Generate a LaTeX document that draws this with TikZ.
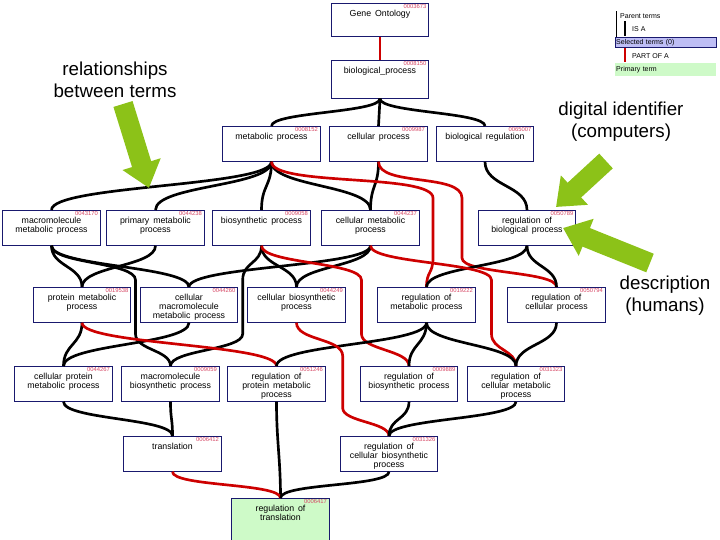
\documentclass[tikz,border=0pt]{standalone}
\usepackage{fontspec}
\setmainfont{Liberation Sans}
\usetikzlibrary{arrows.meta}
\definecolor{termblue}{RGB}{25,25,110}
\definecolor{goid}{RGB}{214,70,100}
\definecolor{partred}{RGB}{205,0,0}
\definecolor{selband}{RGB}{190,190,245}
\definecolor{primband}{RGB}{206,250,200}
\definecolor{arrowgreen}{RGB}{140,194,24}
\newcommand{\goterm}[3][10.5mm]{\parbox[c][#1][t]{\linewidth}{%
  \vspace*{0.25mm}{\raggedleft\fontsize{5}{5}\selectfont\color{goid}#2\hspace*{0.7mm}\par}%
  \vspace{-0.3mm}{\centering\fontsize{7.5}{7.7}\selectfont #3\par}}}

\begin{document}
\begin{tikzpicture}[x=0.3mm,y=-0.3mm]
        \tikzstyle{term}=[draw=termblue, line width=0.6pt, fill=white, inner sep=0pt, anchor=north, text width=29.3mm]
        \tikzstyle{primary}=[term, fill=primband]
        \tikzstyle{isa}=[line width=0.8mm, black]
        \tikzstyle{partof}=[line width=0.8mm, partred]
        \tikzstyle{callout}=[arrowgreen, line width=6mm, -{Triangle[length=7.5mm,width=11.5mm]}]
        \tikzstyle{note}=[font=\fontsize{16}{18.7}\selectfont, align=center]
        \tikzstyle{legendtext}=[font=\fontsize{6}{6}\selectfont, anchor=west, inner sep=0pt]
        \tikzstyle{band}=[anchor=north west, text width=29.7mm, minimum height=3mm, inner xsep=0.3mm, inner ysep=0pt, font=\fontsize{6}{6}\selectfont]
        \useasboundingbox (0,0) rectangle (720,540);

        \node[term] (go) at (380,3) {\goterm[9.9mm]{0003673}{Gene Ontology}};
        \node[term] (bp) at (380,60) {\goterm[11.4mm]{0008150}{biological\_process}};

        \node[term] (mp) at (271.5,126) {\goterm{0008152}{metabolic process}};
        \node[term] (cp) at (378.5,126) {\goterm{0009987}{cellular process}};
        \node[term] (breg) at (485,126) {\goterm{0065007}{biological regulation}};

        \node[term] (mmp) at (51.5,210) {\goterm{0043170}{macromolecule\\metabolic process}};
        \node[term] (pmp) at (155.5,210) {\goterm{0044238}{primary metabolic\\process}};
        \node[term] (bsp) at (261.5,210) {\goterm{0009058}{biosynthetic process}};
        \node[term] (cmp) at (370.5,210) {\goterm{0044237}{cellular metabolic\\process}};
        \node[term] (rbp) at (527,210) {\goterm{0050789}{regulation of\\biological process}};

        \node[term] (pmpr) at (82,287) {\goterm{0019538}{protein metabolic\\process}};
        \node[term] (cmmp) at (189,287) {\goterm{0044260}{cellular\\macromolecule\\metabolic process}};
        \node[term] (cbp) at (296.5,287) {\goterm{0044249}{cellular biosynthetic\\process}};
        \node[term] (rmp) at (426.5,287) {\goterm{0019222}{regulation of\\metabolic process}};
        \node[term] (rcp) at (556.5,287) {\goterm{0050794}{regulation of\\cellular process}};

        \node[term] (cpmp) at (63.5,366) {\goterm{0044267}{cellular protein\\metabolic process}};
        \node[term] (mbsp) at (170.5,366) {\goterm{0009059}{macromolecule\\biosynthetic process}};
        \node[term] (rpmp) at (276.5,366) {\goterm{0051246}{regulation of\\protein metabolic\\process}};
        \node[term] (rbsp) at (409,366) {\goterm{0009889}{regulation of\\biosynthetic process}};
        \node[term] (rcmp) at (516,366) {\goterm{0031323}{regulation of\\cellular metabolic\\process}};

        \node[term] (tr) at (172.5,436) {\goterm{0006412}{translation}};
        \node[term] (rcbsp) at (389,436) {\goterm{0031326}{regulation of\\cellular biosynthetic\\process}};

        \node[primary] (rot) at (280.5,498) {\goterm[15mm]{0006417}{regulation of\\translation}};

        \coordinate (r1a) at (433,198);
        \coordinate (r1b) at (433,258);
        \coordinate (r2a) at (462,198);
        \coordinate (r2b) at (462,258);
        \coordinate (r3a) at (361.5,280);
        \coordinate (r3b) at (361.5,334);
        \coordinate (r4a) at (491.5,280);
        \coordinate (r4b) at (491.5,334);
        \coordinate (r5a) at (342.7,356);
        \coordinate (r5b) at (342.7,408);
        \coordinate (k1a) at (135.5,280);
        \coordinate (k1b) at (135.5,334);
        \coordinate (k2a) at (242.7,280);
        \coordinate (k2b) at (242.7,334);

        \draw[partof] (go.south) -- (bp.north);

        \draw[isa] (bp.south) .. controls +(0,14) and +(0,-14) .. (mp.north);
        \draw[isa] (bp.south) .. controls +(0,14) and +(0,-14) .. (cp.north);
        \draw[isa] (bp.south) .. controls +(0,14) and +(0,-14) .. (breg.north);

        \draw[isa] (mp.south) .. controls +(0,25) and +(0,-25) .. (mmp.north);
        \draw[isa] (mp.south) .. controls +(0,25) and +(0,-25) .. (pmp.north);
        \draw[isa] (mp.south) .. controls +(0,25) and +(0,-25) .. (bsp.north);
        \draw[isa] (mp.south) .. controls +(0,25) and +(0,-25) .. (cmp.north);
        \draw[isa] (cp.south) .. controls +(0,25) and +(0,-25) .. (cmp.north);
        \draw[isa] (breg.south) .. controls +(0,25) and +(0,-25) .. (rbp.north);
        \draw[partof] (mp.south) .. controls +(0,25) and +(0,-25) .. (r1a) -- (r1b) .. controls +(0,16) and +(0,-16) .. (rmp.north);
        \draw[partof] (cp.south) .. controls +(0,25) and +(0,-25) .. (r2a) -- (r2b) .. controls +(0,16) and +(0,-16) .. (rcp.north);

        \draw[isa] (mmp.south) .. controls +(0,21) and +(0,-21) .. (pmpr.north);
        \draw[isa] (pmp.south) .. controls +(0,21) and +(0,-21) .. (pmpr.north);
        \draw[isa] (mmp.south) .. controls +(0,21) and +(0,-21) .. (cmmp.north);
        \draw[isa] (cmp.south) .. controls +(0,21) and +(0,-21) .. (cmmp.north);
        \draw[isa] (bsp.south) .. controls +(0,21) and +(0,-21) .. (cbp.north);
        \draw[isa] (cmp.south) .. controls +(0,21) and +(0,-21) .. (cbp.north);
        \draw[isa] (rbp.south) .. controls +(0,21) and +(0,-21) .. (rmp.north);
        \draw[isa] (rbp.south) .. controls +(0,21) and +(0,-21) .. (rcp.north);
        \draw[isa] (mmp.south) .. controls +(0,18) and +(0,-18) .. (k1a) -- (k1b) .. controls +(0,16) and +(0,-16) .. (mbsp.north);
        \draw[isa] (bsp.south) .. controls +(0,18) and +(0,-18) .. (k2a) -- (k2b) .. controls +(0,16) and +(0,-16) .. (mbsp.north);
        \draw[partof] (bsp.south) .. controls +(0,18) and +(0,-18) .. (r3a) -- (r3b) .. controls +(0,16) and +(0,-16) .. (rbsp.north);
        \draw[partof] (cmp.south) .. controls +(0,18) and +(0,-18) .. (r4a) -- (r4b) .. controls +(0,16) and +(0,-16) .. (rcmp.north);

        \draw[isa] (pmpr.south) .. controls +(0,22) and +(0,-22) .. (cpmp.north);
        \draw[isa] (cmmp.south) .. controls +(0,22) and +(0,-22) .. (cpmp.north);
        \draw[partof] (pmpr.south) .. controls +(0,22) and +(0,-22) .. (rpmp.north);
        \draw[isa] (rmp.south) .. controls +(0,22) and +(0,-22) .. (rpmp.north);
        \draw[isa] (rmp.south) .. controls +(0,22) and +(0,-22) .. (rbsp.north);
        \draw[isa] (rmp.south) .. controls +(0,22) and +(0,-22) .. (rcmp.north);
        \draw[isa] (rcp.south) .. controls +(0,22) and +(0,-22) .. (rcmp.north);
        \draw[partof] (cbp.south) .. controls +(0,18) and +(0,-18) .. (r5a) -- (r5b) .. controls +(0,14) and +(0,-14) .. (rcbsp.north);

        \draw[isa] (cpmp.south) .. controls +(0,18) and +(0,-18) .. (tr.north);
        \draw[isa] (mbsp.south) .. controls +(0,18) and +(0,-18) .. (tr.north);
        \draw[isa] (rbsp.south) .. controls +(0,18) and +(0,-18) .. (rcbsp.north);
        \draw[isa] (rcmp.south) .. controls +(0,18) and +(0,-18) .. (rcbsp.north);

        \draw[isa] (rpmp.south) .. controls +(0,40) and +(0,-40) .. (rot.north);
        \draw[partof] (tr.south) .. controls +(0,15) and +(0,-15) .. (rot.north);
        \draw[isa] (rcbsp.south) .. controls +(0,15) and +(0,-15) .. (rot.north);

        \coordinate (lg1) at (616,11);
        \coordinate (lg2) at (616,37);
        \draw[line width=0.5pt] (lg1) -- (lg2);
        \node[legendtext] (parent) at (620,16) {Parent terms};
        \coordinate (isa1) at (625,21);
        \coordinate (isa2) at (625,36);
        \draw[line width=0.6mm] (isa1) -- (isa2);
        \node[legendtext] (isalbl) at (632,29) {IS A};
        \node[band, fill=selband, draw=termblue, line width=0.4pt] (selected) at (615,37) {Selected terms (0)};
        \coordinate (po1) at (625,48);
        \coordinate (po2) at (625,62);
        \draw[line width=0.6mm, partred] (po1) -- (po2);
        \node[legendtext] (partlbl) at (632,56) {PART OF A};
        \node[band, fill=primband, minimum height=3.9mm] (primterm) at (615,63) {Primary term};

        \node[note] (rel) at (115,80) {relationships\\between terms};
        \node[note] (dig) at (621,122) {digital identifier\\(computers)};
        \node[note] (desc) at (665,296) {description\\(humans)};

        \coordinate (a1s) at (123,104);
        \coordinate (a1e) at (149,188);
        \coordinate (a2s) at (606,161);
        \coordinate (a2e) at (556,207);
        \coordinate (a3s) at (650,263);
        \coordinate (a3e) at (563,228);
        \draw[callout] (a1s) -- (a1e);
        \draw[callout] (a2s) -- (a2e);
        \draw[callout] (a3s) -- (a3e);
\end{tikzpicture}
\end{document}
